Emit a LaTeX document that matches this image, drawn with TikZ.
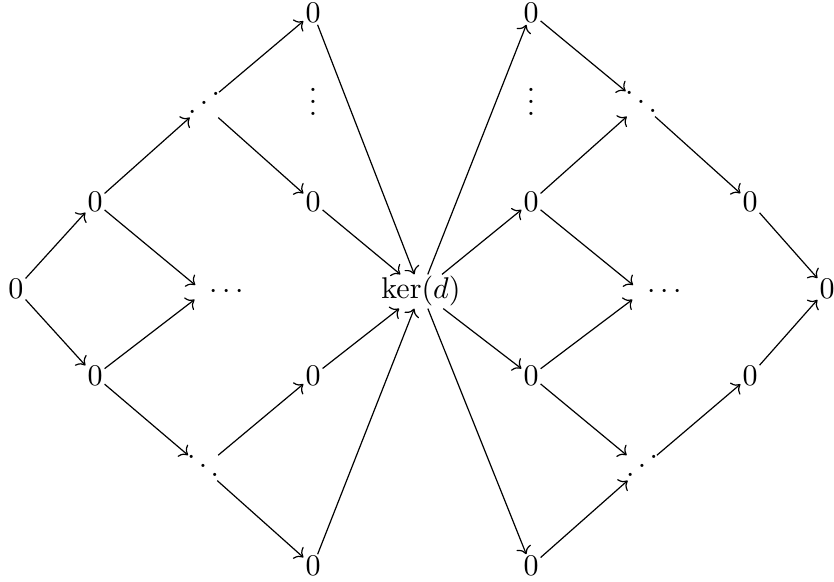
\documentclass[tikz,border=0pt]{standalone}
\usepackage{amsmath}
\usepackage{tikz}
\usetikzlibrary{arrows.meta}
\newcommand{\dndots}{\mathinner{\mkern1mu\raise7pt\hbox{.}\mkern2mu\raise4pt\hbox{.}\mkern2mu\raise1pt\hbox{.}\mkern1mu}}
\newcommand{\updots}{\mathinner{\mkern1mu\raise1pt\hbox{.}\mkern2mu\raise4pt\hbox{.}\mkern2mu\raise7pt\hbox{.}\mkern1mu}}

\begin{document}
\begin{tikzpicture}[x=0.3333pt,y=-0.3333pt,
  ob/.style={inner sep=0.5pt},
  dt/.style={inner sep=0pt,anchor=base},
  ar/.style={-{Computer Modern Rightarrow},line width=0.4pt}]
  \useasboundingbox (0,0) rectangle (834,582);
  % left half
  \node[ob] (zl) at (16,289) {$0$};
  \node[ob] (ua) at (95,202) {$0$};
  \node[ob] (da) at (95,376) {$0$};
  \node[dt] (ub) at (204,117) {$\updots$};
  \node[dt,minimum width=7.5pt] (mb) at (204,299) {\rlap{$\,\cdots$}};
  \node[dt] (db) at (203,480) {$\dndots$};
  \node[ob] (uc) at (313,13) {$0$};
  \node[dt] (vl) at (313,116) {$\vdots$};
  \node[ob] (mc) at (313,202) {$0$};
  \node[ob] (nc) at (313,376) {$0$};
  \node[ob] (dc) at (313,566) {$0$};
  % kernel
  \node[ob,anchor=base] (ker) at (421,299) {$\ker(d)$};
  % right half
  \node[ob] (ue) at (531,13) {$0$};
  \node[dt] (vr) at (531,116) {$\vdots$};
  \node[ob] (me) at (531,202) {$0$};
  \node[ob] (ne) at (531,376) {$0$};
  \node[ob] (de) at (531,566) {$0$};
  \node[dt] (uf) at (641,116) {$\dndots$};
  \node[dt,minimum width=7.5pt] (mf) at (642,299) {\rlap{$\,\cdots$}};
  \node[dt] (df) at (642,480) {$\updots$};
  \node[ob] (ug) at (750,202) {$0$};
  \node[ob] (dg) at (750,376) {$0$};
  \node[ob] (zr) at (827,289) {$0$};
  \draw[ar] (zl) -- (ua);
  \draw[ar] (zl) -- (da);
  \draw[ar] (ua) -- (ub);
  \draw[ar] (ua) -- (mb);
  \draw[ar] (da) -- (mb);
  \draw[ar] (da) -- (db);
  \draw[ar] (ub) -- (uc);
  \draw[ar] (ub) -- (mc);
  \draw[ar] (db) -- (nc);
  \draw[ar] (db) -- (dc);
  \draw[ar] (uc) -- (ker);
  \draw[ar] (mc) -- (ker);
  \draw[ar] (nc) -- (ker);
  \draw[ar] (dc) -- (ker);
  \draw[ar] (ker) -- (ue);
  \draw[ar] (ker) -- (me);
  \draw[ar] (ker) -- (ne);
  \draw[ar] (ker) -- (de);
  \draw[ar] (ue) -- (uf);
  \draw[ar] (me) -- (uf);
  \draw[ar] (me) -- (mf);
  \draw[ar] (ne) -- (mf);
  \draw[ar] (ne) -- (df);
  \draw[ar] (de) -- (df);
  \draw[ar] (uf) -- (ug);
  \draw[ar] (df) -- (dg);
  \draw[ar] (ug) -- (zr);
  \draw[ar] (dg) -- (zr);
\end{tikzpicture}
\end{document}
